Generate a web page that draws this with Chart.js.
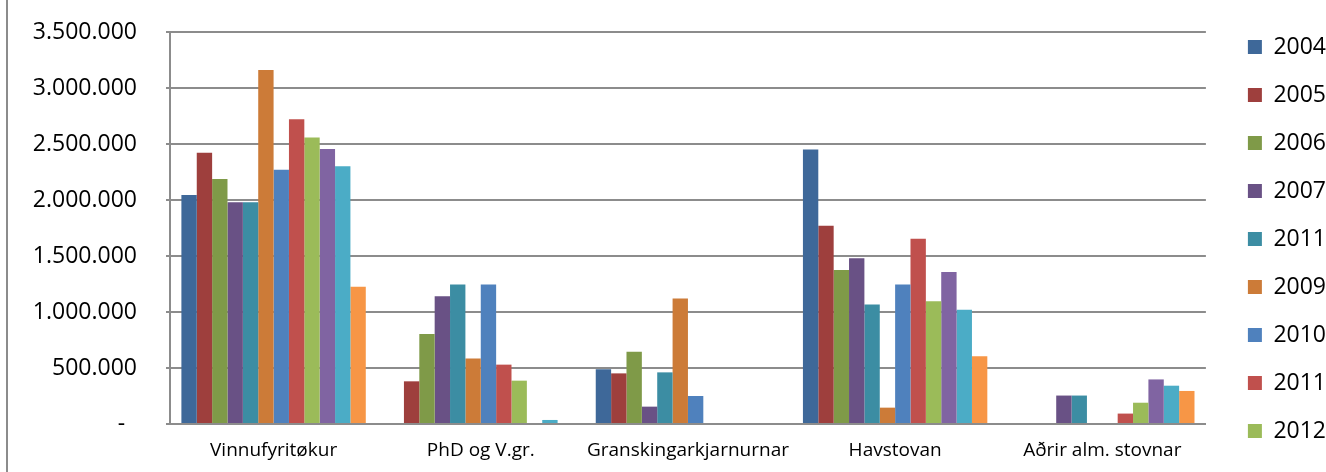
<!DOCTYPE html>
<html>
<head>
<meta charset="utf-8">
<script src="https://cdn.jsdelivr.net/npm/chart.js@4.4.1/dist/chart.umd.min.js"></script>
<style>
  body { margin: 0; background: #fff; }
  .wrap { position: relative; width: 1326px; height: 472px; }
  .edge { position: absolute; left: 6px; top: 0; width: 2px; height: 472px; background: #8c8c8c; }
</style>
</head>
<body>
<div class="wrap">
  <div class="edge"></div>
  <canvas id="myChart" width="1326" height="472"></canvas>
</div>
<script>

const categories = ['Vinnufyritøkur', 'PhD og V.gr.', 'Granskingarkjarnurnar', 'Havstovan', 'Aðrir alm. stovnar']
const years = ['2004', '2005', '2006', '2007', '2011', '2009', '2010', '2011', '2012', '2013', '2014', '2015']

const s2004 = [2045000, 0, 488000, 2450000, 0]
const s2005 = [2422000, 381000, 452000, 1771000, 0]
const s2006 = [2187000, 804000, 646000, 1375000, 0]
const s2007 = [1979000, 1140000, 155000, 1480000, 254000]
const s2008 = [1979000, 1245000, 461000, 1066000, 254000]
const s2009 = [3161000, 584000, 1120000, 146000, 0]
const s2010 = [2271000, 1245000, 250000, 1245000, 0]
const s2011 = [2720000, 530000, 0, 1655000, 93000]
const s2012 = [2557000, 387000, 0, 1096000, 190000]
const s2013 = [2455000, 0, 0, 1357000, 398000]
const s2014 = [2301000, 36000, 0, 1021000, 342000]
const s2015 = [1226000, 0, 0, 605000, 295000]

const seriesValues = [s2004, s2005, s2006, s2007, s2008, s2009, s2010, s2011, s2012, s2013, s2014, s2015]
const colors = ['#3e6899', '#9e3f3d', '#7f9a48', '#695185', '#3c8da3', '#cc7b38',
                '#4f81bd', '#c0504d', '#9bbb59', '#8064a2', '#4bacc6', '#f79646']

const fmt=(v)=>{
  if(v===0) return '-  '
  return String(v).replace(/\B(?=(\d{3})+(?!\d))/g, '.')
}

var ctx = document.getElementById('myChart').getContext('2d');

var myChart = new Chart(ctx, {
  type: 'bar',
  data: {
    labels: categories,
    datasets: seriesValues.map((vals, i) => ({
      label: years[i],
      data: vals,
      backgroundColor: colors[i],
      borderWidth: 0,
      barPercentage: 1,
      categoryPercentage: 0.89
    }))
  },
  options: {
    responsive: false,
    animation: false,
    layout: { padding: { top: 0, right: -10, bottom: -6, left: 0 } },
    plugins: {
      tooltip: { enabled: false },
      legend: {
        position: 'right',
        labels: {
          // only nine entries fit in the visible legend
          filter: (item) => item.datasetIndex < 9,
          boxWidth: 14,
          boxHeight: 14,
          padding: 25,
          color: '#000',
          font: { family: 'Open Sans', size: 23 }
        }
      }
    },
    scales: {
      x: {
        grid: { display: false, drawTicks: false },
        border: { display: true, color: '#8c8c8c', width: 2 },
        ticks: {
          color: '#000',
          padding: 15,
          maxRotation: 0,
          minRotation: 0,
          autoSkip: false,
          font: { family: 'Open Sans', size: 19 }
        },
        afterFit: (scale) => { scale.height = 54 }
      },
      y: {
        min: 0,
        max: 3500000,
        grid: { color: '#8c8c8c', lineWidth: 2, tickLength: 4 },
        border: { display: true, color: '#8c8c8c', width: 2 },
        ticks: {
          stepSize: 500000,
          color: '#000',
          padding: 29,
          font: { family: 'Open Sans', size: 23 },
          callback: (v) => fmt(v)
        },
        afterFit: (scale) => { scale.width = 170; scale.paddingTop = 32 }
      },
      // empty spacer between plot and legend
      gap: {
        position: 'right',
        grid: { display: false },
        border: { display: false },
        ticks: { display: false },
        afterFit: (scale) => { scale.width = 17 }
      }
    }
  }
});
</script>
</body>
</html>
